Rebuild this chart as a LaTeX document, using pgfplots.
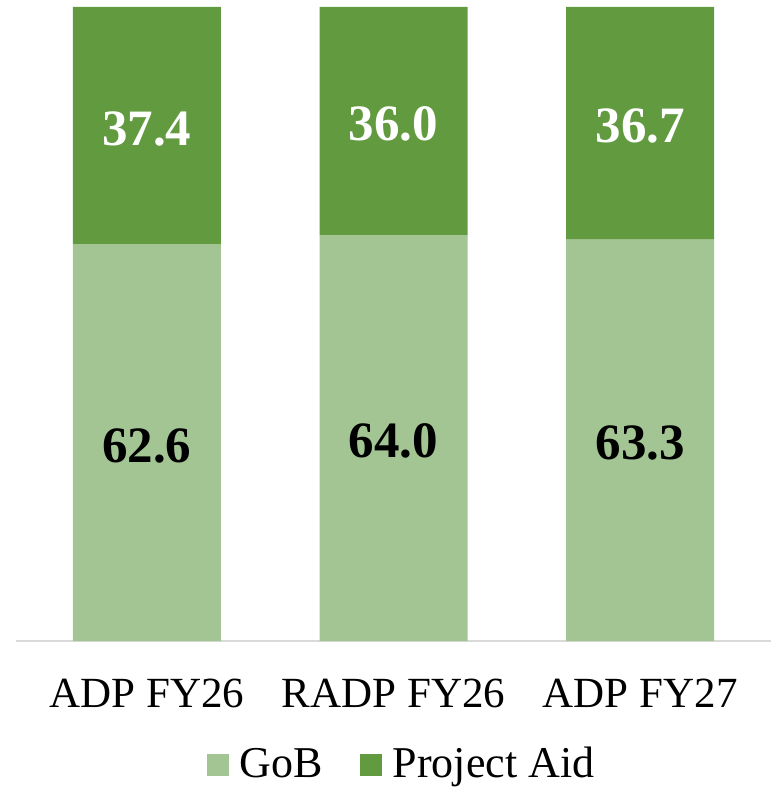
\documentclass[border=0pt]{standalone}
\usepackage{pgfplots}
\pgfplotsset{compat=1.18}
\usepackage{fontspec}
\setmainfont{Liberation Serif}
\definecolor{gob}{HTML}{A3C594}
\definecolor{paid}{HTML}{629A3F}
\definecolor{axgray}{HTML}{D9D9D9}
\begin{document}
\begin{tikzpicture}
\useasboundingbox (-16pt,-147pt) rectangle (755pt,641pt);
\begin{axis}[
  at={(0,0)}, anchor=south west,
  width=755pt, height=634pt, scale only axis,
  ybar stacked, bar width=148pt,
  ymin=0, ymax=100,
  xmin=-0.53, xmax=2.53,
  xtick=data,
  xticklabels={ADP FY26, RADP FY26, ADP FY27},
  xticklabel style={anchor=base, yshift=-66pt, font=\fontsize{43}{48}\selectfont},
  hide y axis,
  axis x line*=bottom,
  x axis line style={draw=axgray, line width=2pt, -},
  xtick style={draw=none},
  point meta=rawy,
  nodes near coords={\pgfmathprintnumber[fixed, fixed zerofill, precision=1, assume math mode=true]{\pgfplotspointmeta}},
  every node near coord/.append style={anchor=center, yshift=-3pt, font=\fontsize{51}{56}\selectfont\bfseries},
  legend columns=2,
  legend style={at={(0.51,-0.193)}, anchor=center, draw=none, fill=none,
    font=\fontsize{44}{50}\selectfont, inner sep=0pt,
    nodes={inner sep=1pt},
    /tikz/every odd column/.append style={column sep=10pt},
    /tikz/every even column/.append style={column sep=36pt}},
  legend image code/.code={\fill[#1] (0pt,-13pt) rectangle (22pt,9pt);},
]
\addplot[fill=gob, draw=none, every node near coord/.append style={text=black}]
  coordinates {(0,62.6) (1,64.0) (2,63.3)};
\addplot[fill=paid, draw=none, every node near coord/.append style={text=white}]
  coordinates {(0,37.4) (1,36.0) (2,36.7)};
\legend{GoB, Project Aid}
\end{axis}
\end{tikzpicture}
\end{document}
